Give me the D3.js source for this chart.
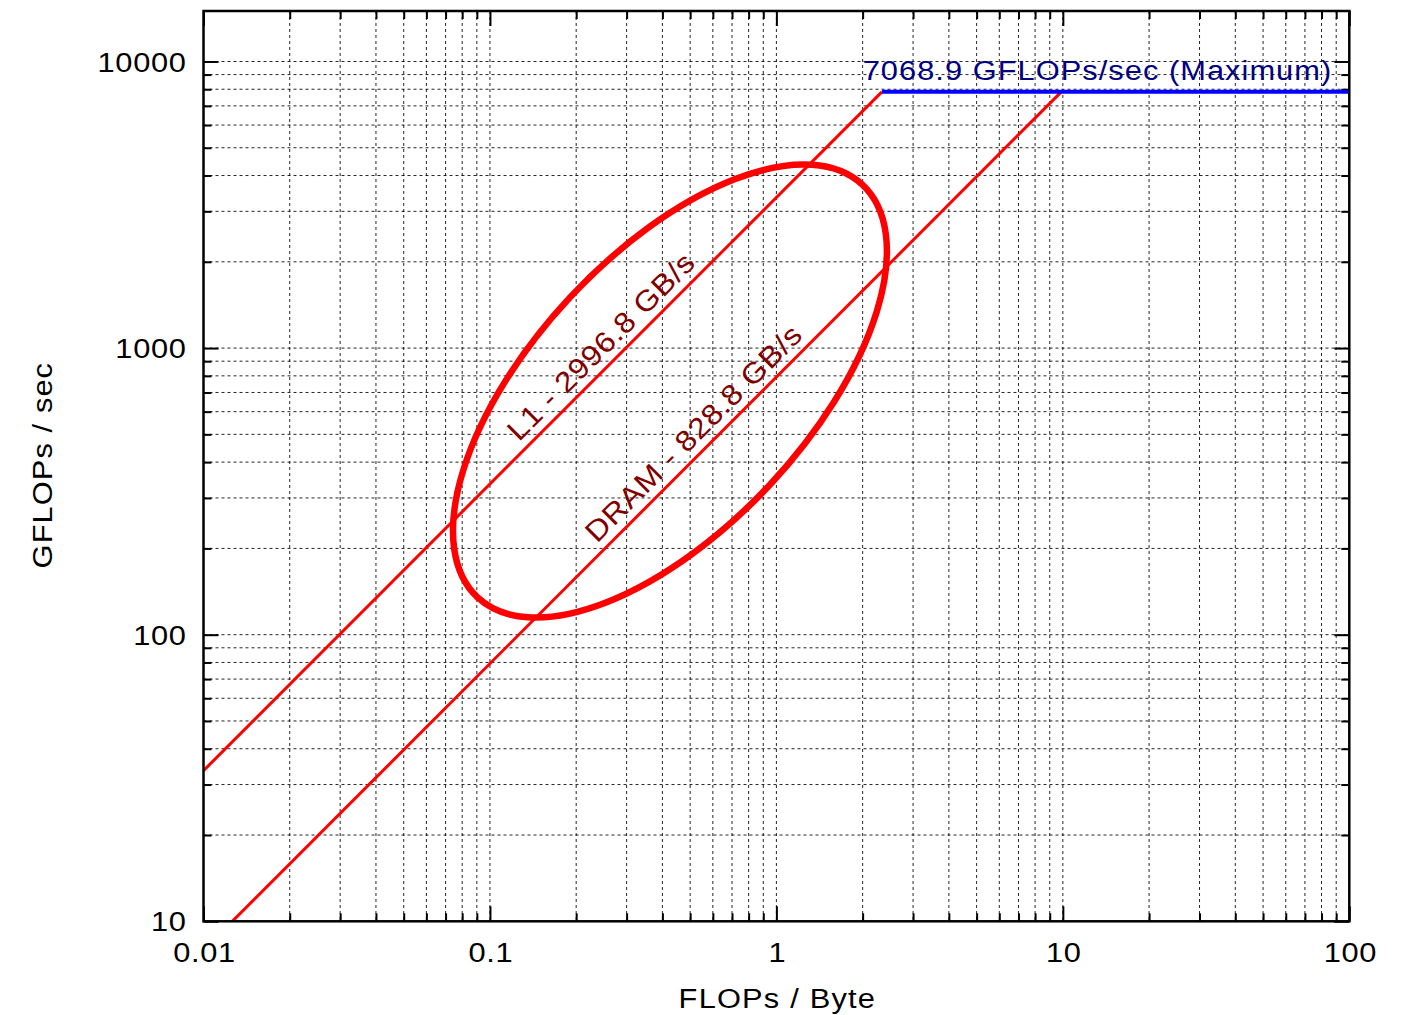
<!DOCTYPE html>
<html>
<head>
<meta charset="utf-8">
<script src="https://cdn.jsdelivr.net/npm/d3@7"></script>
<style>
  body { margin: 0; background: #fff; }
  text { font-family: "Liberation Sans", Arial, Helvetica, sans-serif; }
</style>
</head>
<body>
<div id="chart"></div>
<script>
// data
var xTicks = [0.01, 0.1, 1, 10, 100]
var xTickLabels = ["0.01", "0.1", "1", "10", "100"]
var yTicks = [10, 100, 1000, 10000]
var yTickLabels = ["10", "100", "1000", "10000"]
var xDomain = [0.01, 100]
var yDomain = [10, 15000]

// rooflines: name, drawn slope (GB/s), label
var roofNames = ["L1", "DRAM"]
var roofSlopes = [3355, 793]
var roofLabels = ["L1 - 2996.8 GB/s", "DRAM - 828.8 GB/s"]
var roofLabelAt = [0.133, 0.249]   // FLOPs/Byte where each label starts

// compute ceiling
var peak = 7834
var peakLabel = "7068.9 GFLOPs/sec (Maximum)"
var peakLabelAt = 2.0

// highlight ellipse: centre (FLOPs/Byte, GFLOPs), radii in decades, angle in degrees
var ellipseCentre = [0.425, 708]
var ellipseRadii = [0.985, 0.478]
var ellipseAngle = 47

// set the dimensions of the graph
var width = 1407,
    height = 1015
var plotL = 203.5, plotR = 1349.3, plotT = 11, plotB = 921.3
var wide = 1.1   // the original font is a little wider than Arial

var svg = d3.select("#chart")
  .append("svg")
    .attr("width", width)
    .attr("height", height)

var x = d3.scaleLog().domain(xDomain).range([plotL, plotR])
var y = d3.scaleLog().domain(yDomain).range([plotB, plotT])

// text placed at (px, py), rotated, with glyphs stretched sideways
function label(px, py, rot, anchor, size, ls, colour, str, dy) {
  return svg.append("g")
      .attr("transform", "translate(" + px + "," + py + ") rotate(" + rot + ")")
    .append("text")
      .attr("transform", "scale(" + wide + ",1)")
      .attr("dy", dy)
      .attr("text-anchor", anchor)
      .attr("font-size", size)
      .attr("letter-spacing", ls)
      .attr("fill", colour)
      .text(str)
}

// positions 1..9 in each decade
function decadeSteps(lo, hi) {
  var out = []
  for (var d = lo; d < hi * 1.0001; d *= 10) {
    for (var m = 1; m <= 9; m++) {
      var v = d * m
      if (v >= lo * 0.9999 && v <= hi * 1.0001) out.push(v)
    }
  }
  return out
}
function isMajor(v) {
  var l = Math.log10(v)
  return Math.abs(l - Math.round(l)) < 1e-6
}
var xAll = decadeSteps(xDomain[0], xDomain[1])
var yAll = decadeSteps(yDomain[0], 10000)
var xMinor = xAll.filter(function(v){ return !isMajor(v) })
var yMinor = yAll.filter(function(v){ return !isMajor(v) })

// grid (dashed)
var grid = svg.append("g")
grid.selectAll("line.gx")
  .data(xAll.filter(function(v){ return v > xDomain[0] && v < xDomain[1] }))
  .enter().append("line")
    .attr("x1", function(d){ return x(d) })
    .attr("x2", function(d){ return x(d) })
    .attr("y1", plotT).attr("y2", plotB)
grid.selectAll("line.gy")
  .data(yAll.filter(function(v){ return v > yDomain[0] }))
  .enter().append("line")
    .attr("y1", function(d){ return y(d) })
    .attr("y2", function(d){ return y(d) })
    .attr("x1", plotL).attr("x2", plotR)
grid.selectAll("line")
    .attr("stroke", "#000")
    .attr("stroke-width", 1)
    .attr("stroke-dasharray", "3,3")
    .attr("opacity", 0.85)

// tick marks on all four sides, pointing in
function ticks(g, axis) {
  g.call(axis)
  g.select(".domain").remove()
  g.selectAll("line").attr("stroke", "#000").attr("stroke-width", 2)
}
var tk = svg.append("g")
ticks(tk.append("g").attr("transform", "translate(0," + plotB + ")"), d3.axisBottom(x).tickValues(xTicks).tickSize(-15).tickFormat(""))
ticks(tk.append("g").attr("transform", "translate(0," + plotB + ")"), d3.axisBottom(x).tickValues(xMinor).tickSize(-8).tickFormat(""))
ticks(tk.append("g").attr("transform", "translate(0," + plotT + ")"), d3.axisTop(x).tickValues(xTicks).tickSize(-15).tickFormat(""))
ticks(tk.append("g").attr("transform", "translate(0," + plotT + ")"), d3.axisTop(x).tickValues(xMinor).tickSize(-8).tickFormat(""))
ticks(tk.append("g").attr("transform", "translate(" + plotL + ",0)"), d3.axisLeft(y).tickValues(yTicks).tickSize(-15).tickFormat(""))
ticks(tk.append("g").attr("transform", "translate(" + plotL + ",0)"), d3.axisLeft(y).tickValues(yMinor).tickSize(-8).tickFormat(""))
ticks(tk.append("g").attr("transform", "translate(" + plotR + ",0)"), d3.axisRight(y).tickValues(yTicks).tickSize(-15).tickFormat(""))
ticks(tk.append("g").attr("transform", "translate(" + plotR + ",0)"), d3.axisRight(y).tickValues(yMinor).tickSize(-8).tickFormat(""))

// tick labels
xTicks.forEach(function(d, i) {
  label(x(d) + 1, plotB + 41, 0, "middle", 28, 0.6, "#000", xTickLabels[i], 0)
})
yTicks.forEach(function(d, i) {
  label(plotL - 17, y(d), 0, "end", 28, 0.6, "#000", yTickLabels[i], "0.36em")
})

// axis titles
label((plotL + plotR) / 2 + 1, 1008, 0, "middle", 28, 1.1, "#000", "FLOPs / Byte", 0)
label(52, (plotT + plotB) / 2 - 1, -90, "middle", 28, 1.0, "#000", "GFLOPs / sec", 0)

// plot area clip
svg.append("clipPath").attr("id", "clip")
  .append("rect")
    .attr("x", plotL).attr("y", plotT)
    .attr("width", plotR - plotL).attr("height", plotB - plotT)
var plot = svg.append("g").attr("clip-path", "url(#clip)")

// memory rooflines, up to where they meet the ceiling
var line = d3.line().x(function(d){ return x(d[0]) }).y(function(d){ return y(d[1]) })
roofSlopes.forEach(function(bw, i) {
  var ridge = peak / bw
  plot.append("path")
    .datum([[xDomain[0], bw * xDomain[0]], [ridge, peak]])
    .attr("d", line)
    .attr("fill", "none")
    .attr("stroke", "#ff0000")
    .attr("stroke-width", 3)
})

// compute ceiling
var ridgeL1 = peak / d3.max(roofSlopes)
plot.append("path")
  .datum([[ridgeL1, peak], [xDomain[1], peak]])
  .attr("d", line)
  .attr("fill", "none")
  .attr("stroke", "#0000ff")
  .attr("stroke-width", 4)

// the ellipse, drawn in log space
var pxPerDecX = x(10) - x(1)
var pxPerDecY = y(1) - y(10)
plot.append("ellipse")
    .attr("cx", 0).attr("cy", 0)
    .attr("rx", ellipseRadii[0] * pxPerDecX)
    .attr("ry", ellipseRadii[1] * pxPerDecY)
    .attr("transform", "translate(" + x(ellipseCentre[0]) + "," + y(ellipseCentre[1]) + ") rotate(" + (-ellipseAngle) + ")")
    .attr("fill", "none")
    .attr("stroke", "#ff0000")
    .attr("stroke-width", 6.5)

// roofline labels along the lines
var ang = Math.atan2(y(100) - y(10), x(10) - x(1)) * 180 / Math.PI
roofSlopes.forEach(function(bw, i) {
  var px = roofLabelAt[i]
  label(x(px), y(bw * px), ang, "start", 29, 0.6, "#800000", roofLabels[i], -9)
})

label(x(peakLabelAt), y(peak), 0, "start", 28, 0.95, "#000080", peakLabel, -12)

// frame
svg.append("rect")
    .attr("x", plotL).attr("y", plotT)
    .attr("width", plotR - plotL).attr("height", plotB - plotT)
    .attr("fill", "none")
    .attr("stroke", "#000")
    .attr("stroke-width", 2.5)
</script>
</body>
</html>
